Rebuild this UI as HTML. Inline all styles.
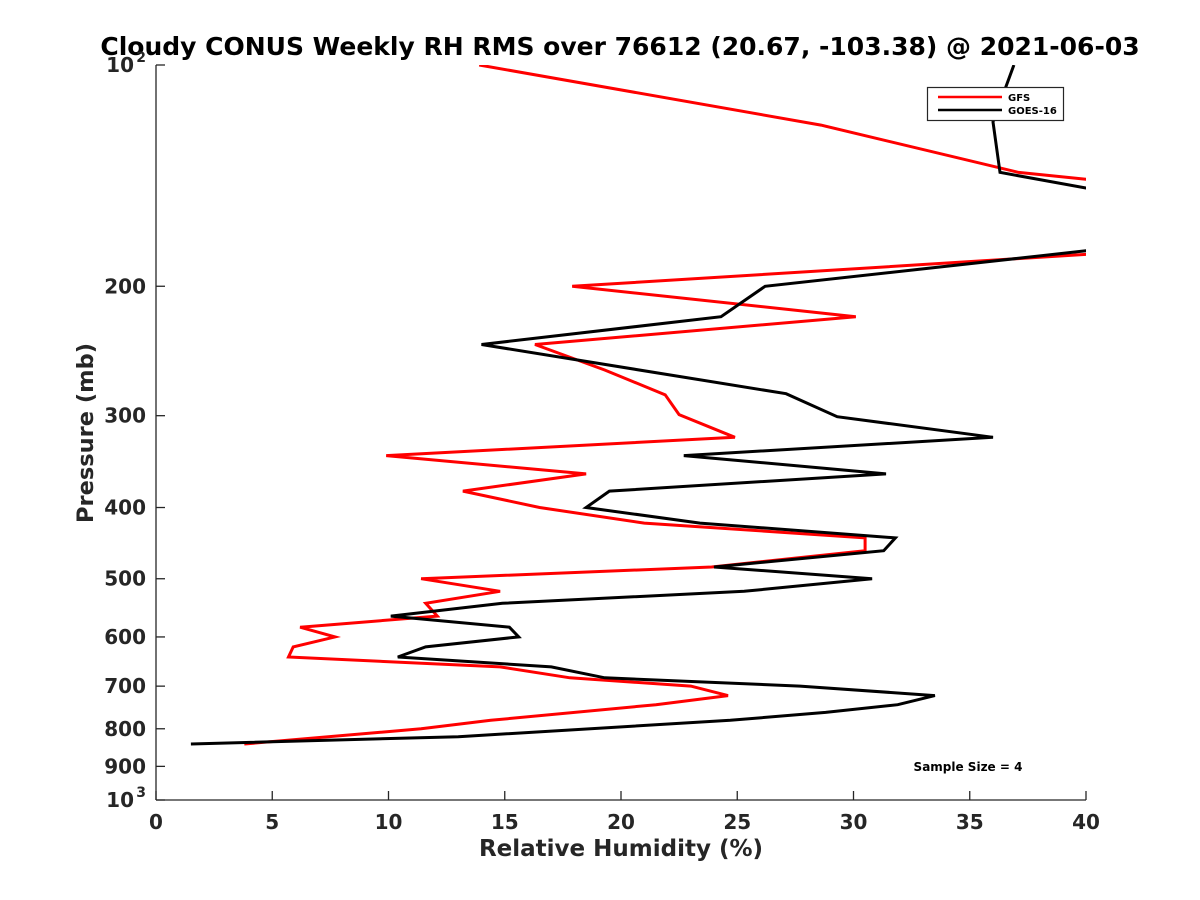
<!DOCTYPE html>
<html><head><meta charset="utf-8"><style>
body{margin:0;background:#fff;}
svg{display:block;font-family:"Liberation Sans","DejaVu Sans",sans-serif;}
</style></head><body>
<svg id="chart" width="1200" height="900" viewBox="0 0 1200 900">
<rect width="1200" height="900" fill="#fff"/>
<text x="620" y="55" text-anchor="middle" font-size="25" font-weight="bold" font-family="DejaVu Sans, sans-serif">Cloudy CONUS Weekly RH RMS over 76612 (20.67, -103.38) @ 2021-06-03</text>
<defs><clipPath id="plotclip"><rect x="156" y="65" width="930" height="735"/></clipPath></defs>
<g id="axes"></g>
<g id="series" clip-path="url(#plotclip)"></g>
<g>
<rect x="927.5" y="87.5" width="136" height="33" fill="#fff" stroke="#262626" stroke-width="1.2"/>
<line x1="938" y1="97" x2="1002" y2="97" stroke="#ff0000" stroke-width="2.5"/>
<text x="1008" y="101" font-size="10" font-weight="bold" font-family="DejaVu Sans, sans-serif">GFS</text>
<line x1="938" y1="110" x2="1002" y2="110" stroke="#000" stroke-width="2.5"/>
<text x="1008" y="114" font-size="10" font-weight="bold" font-family="DejaVu Sans, sans-serif">GOES-16</text>
</g>
<text x="968" y="771" text-anchor="middle" font-size="12" font-weight="bold" font-family="DejaVu Sans, sans-serif">Sample Size = 4</text>
</svg>
<script>
const xTicks = [0,5,10,15,20,25,30,35,40];
const yTicks = [100,200,300,400,500,600,700,800,900,1000];
const yTickLabels = ["10^2","200","300","400","500","600","700","800","900","10^3"];
const gfsRH = [13.9,28.6,37.1,40,46,40,17.9,30.1,16.3,19.3,21.9,22.5,24.9,9.9,18.5,13.2,16.5,21.0,30.5,30.5,23.9,11.4,14.8,11.6,12.1,6.2,7.7,5.9,5.7,14.8,17.8,23.0,24.6,21.5,14.4,11.4,3.8];
const gfsP = [100,120.7,140,143,160,181,200,220,240,260,281,299,321,340,360,380,400,420,440,458,482,500,520,540,562,582,600,619,639,659,682,700,721,742,779,800,839];
const goesRH = [36.9,36.0,36.3,40,46,40,26.2,24.3,14.0,27.1,29.3,36.0,22.7,31.4,19.5,18.5,23.4,31.8,31.3,24.0,30.8,25.3,14.9,10.1,15.2,15.6,11.6,10.4,17.0,19.3,27.7,33.5,31.9,28.8,24.7,13.0,1.5];
const goesP = [100,119.5,140,147,163,179,200,220,240,280,301,321,340,360,380,400,420,440,458,482,500,520,540,562,582,600,619,639,659,682,700,721,742,760,779,820,839];

const X0=156,X1=1086,Y0=65,Y1=800;
function xs(v){return X0+(v-0)/(40-0)*(X1-X0);}
function ys(p){return Y0+(Math.log10(p)-2)/(3-2)*(Y1-Y0);}
const NS="http://www.w3.org/2000/svg";
const axes=document.getElementById('axes');
const series=document.getElementById('series');
function mk(tag,attrs,parent){const e=document.createElementNS(NS,tag);for(const k in attrs)e.setAttribute(k,attrs[k]);parent.appendChild(e);return e;}

let a=mk('line',{x1:X0,y1:Y0,x2:X0,y2:Y1,stroke:'#262626','stroke-width':1.3},axes);


a=mk('line',{x1:X0,y1:Y1,x2:X1,y2:Y1,stroke:'#262626','stroke-width':1.3},axes);



xTicks.forEach(v=>{
  const x=xs(v);
  const t=mk('line',{x1:x,y1:Y1,x2:x,y2:Y1-9,stroke:'#262626','stroke-width':1.3},axes);
  
  
  const l=mk('text',{x:x,y:Y1+29,'text-anchor':'middle','font-size':20,'font-weight':'bold','font-family':'DejaVu Sans, sans-serif',fill:'#262626'},axes);
  l.textContent=String(v);
  
  
});
yTicks.forEach((p,i)=>{
  const y=ys(p);
  const t=mk('line',{x1:X0,y1:y,x2:X0+9,y2:y,stroke:'#262626','stroke-width':1.3},axes);
  
  
  const lab=yTickLabels[i];
  const l=mk('text',{x:X0-10,y:y+7,'text-anchor':'end','font-size':20,'font-weight':'bold','font-family':'DejaVu Sans, sans-serif',fill:'#262626'},axes);
  if(lab.indexOf('^')>=0){
    const parts=lab.split('^');
    l.setAttribute('x',X0-22);
    l.textContent=parts[0];
    const s=mk('text',{x:X0-10,y:y-3,'text-anchor':'end','font-size':14,'font-weight':'bold','font-family':'DejaVu Sans, sans-serif',fill:'#262626'},axes);
    s.textContent=parts[1];
    
    
  } else l.textContent=lab;
  
  
});
let tt=mk('text',{x:621,y:856,'text-anchor':'middle','font-size':23,'font-weight':'bold','font-family':'DejaVu Sans, sans-serif',fill:'#262626'},axes);
tt.textContent='Relative Humidity (%)';


tt=mk('text',{x:0,y:0,'text-anchor':'middle','font-size':22.5,'font-weight':'bold','font-family':'DejaVu Sans, sans-serif',fill:'#262626',transform:'translate(93,433) rotate(-90)'},axes);
tt.textContent='Pressure (mb)';



function drawLine(rh,p,color,name){
  const pts=rh.map((v,i)=>xs(v).toFixed(1)+','+ys(p[i]).toFixed(1)).join(' ');
  const pl=mk('polyline',{points:pts,fill:'none',stroke:color,'stroke-width':3,'stroke-linejoin':'miter'},series);
  
  
}
drawLine(gfsRH,gfsP,'#ff0000','gfs-line');
drawLine(goesRH,goesP,'#000000','goes16-line');
</script>
</body></html>
